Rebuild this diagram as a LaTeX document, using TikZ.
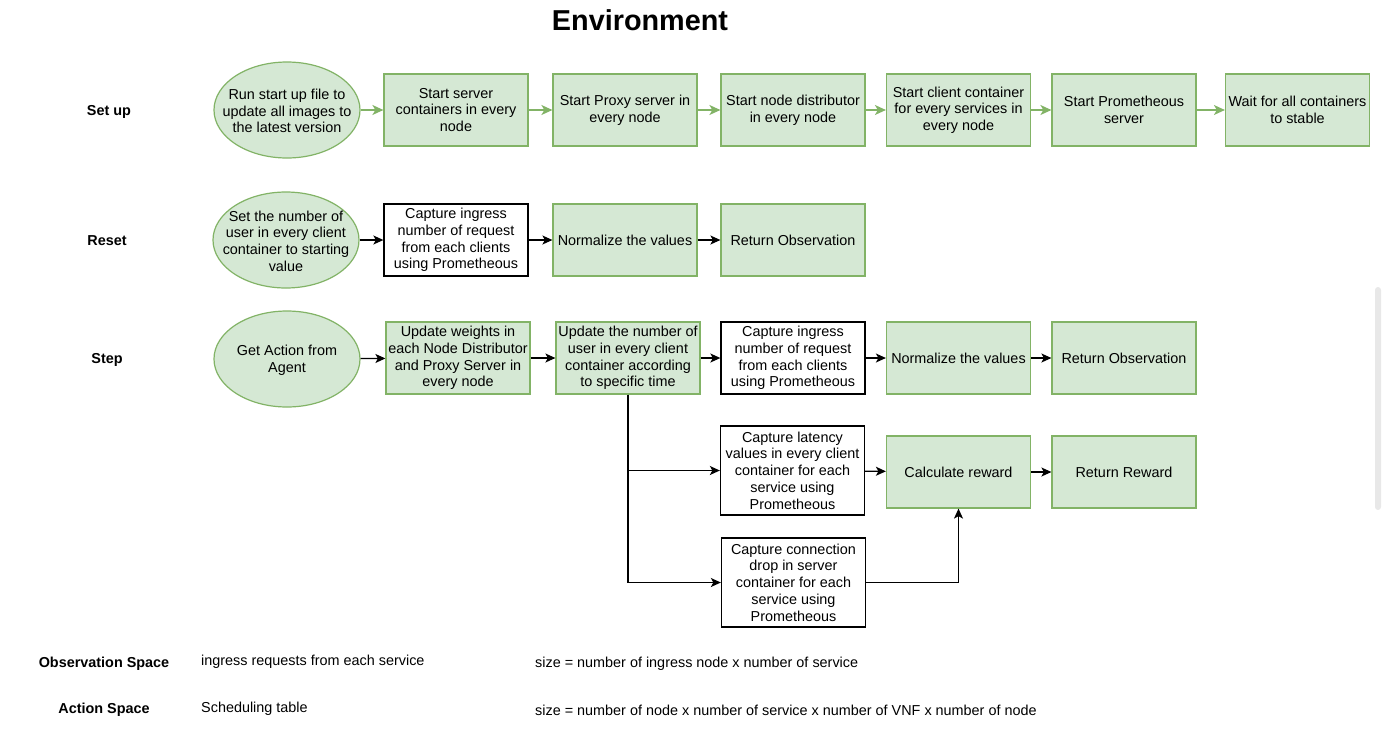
\documentclass[tikz,border=0pt]{standalone}
\usepackage{fontspec}
\setmainfont{Liberation Sans}
\usetikzlibrary{shapes.geometric,arrows.meta}
\definecolor{gfill}{HTML}{D5E8D4}
\definecolor{gdraw}{HTML}{82B366}
\definecolor{sbar}{HTML}{E8E8E8}
\begin{document}
\begin{tikzpicture}[x=1pt,y=-1pt,
  txt/.style={font=\fontsize{14.4}{16.7}\selectfont, align=center},
  gbox/.style={txt, rectangle, draw=gdraw, fill=gfill, line width=1.2pt, minimum width=144pt, minimum height=72pt, inner sep=0pt},
  wbox/.style={txt, rectangle, draw=black, fill=white, line width=1.3pt, minimum width=144pt, minimum height=72pt, inner sep=0pt},
  ell/.style={ellipse, draw=gdraw, fill=gfill, line width=1.2pt, minimum width=146pt, minimum height=96pt, inner sep=0pt},
  lbl/.style={txt, yshift=-1pt},
  rowlbl/.style={font=\fontsize{14.4}{16.7}\selectfont\bfseries},
  plain/.style={font=\fontsize{14.4}{16.7}\selectfont, anchor=west, inner sep=0pt},
  garr/.style={draw=gdraw, line width=1.5pt, -{Stealth[length=11pt,width=10pt,inset=3pt]}},
  barr/.style={draw=black, line width=1.3pt, -{Stealth[length=10pt,width=9pt,inset=2.5pt]}}
]
\useasboundingbox (0,0) rectangle (1382,742);
\fill[sbar, rounded corners=3pt] (1375,287) rectangle (1381,510);

\node[font=\fontsize{28.8}{32}\selectfont\bfseries] (title) at (640,20) {Environment};

\node[rowlbl] (lsetup) at (109,112) {Set up};
\node[rowlbl] (lreset) at (107,241) {Reset};
\node[rowlbl] (lstep) at (107,360) {Step};

% Set up row
\node[ell, label={[lbl]center:{Run start up file to\\update all images to\\the latest version}}] (s0) at (287,110) {};
\node[gbox] (s1) at (456,110) {Start server\\containers in every\\node};
\node[gbox] (s2) at (625,110) {Start Proxy server in\\every node};
\node[gbox] (s3) at (793,110) {Start node distributor\\in every node};
\node[gbox] (s4) at (958.5,110) {Start client container\\for every services in\\every node};
\node[gbox] (s5) at (1124,110) {Start Prometheous\\server};
\node[gbox] (s6) at (1297.5,110) {Wait for all containers\\to stable};
\draw[garr] (s0) -- (s1);
\draw[garr] (s1) -- (s2);
\draw[garr] (s2) -- (s3);
\draw[garr] (s3) -- (s4);
\draw[garr] (s4) -- (s5);
\draw[garr] (s5) -- (s6);

% Reset row
\node[ell, label={[lbl]center:{Set the number of\\user in every client\\container to starting\\value}}] (r0) at (286,240) {};
\node[wbox] (r1) at (456,240) {Capture ingress\\number of request\\from each clients\\using Prometheous};
\node[gbox] (r2) at (625,240) {Normalize the values};
\node[gbox] (r3) at (793,240) {Return Observation};
\draw[barr] (r0) -- (r1);
\draw[barr] (r1) -- (r2);
\draw[barr] (r2) -- (r3);

% Step row
\node[ell, label={[lbl]center:{Get Action from\\Agent}}] (t0) at (287,359) {};
\node[gbox] (t1) at (458,358) {Update weights in\\each Node Distributor\\and Proxy Server in\\every node};
\node[gbox] (t2) at (628,358) {Update the number of\\user in every client\\container according\\to specific time};
\node[wbox] (t3) at (793,358) {Capture ingress\\number of request\\from each clients\\using Prometheous};
\node[gbox] (t4) at (958.5,358) {Normalize the values};
\node[gbox] (t5) at (1124,358) {Return Observation};
\node[wbox, minimum height=89pt] (cl) at (792.5,470.5) {Capture latency\\values in every client\\container for each\\service using\\Prometheous};
\node[gbox] (cr) at (958.5,472) {Calculate reward};
\node[gbox] (rr) at (1124,472) {Return Reward};
\node[wbox, minimum height=89pt] (cd) at (793.5,582.5) {Capture connection\\drop in server\\container for each\\service using\\Prometheous};
\draw[barr] (t0) -- (t1);
\draw[barr] (t1) -- (t2);
\draw[barr] (t2) -- (t3);
\draw[barr] (t3) -- (t4);
\draw[barr] (t4) -- (t5);
\draw[barr] (t2.south) |- (cl.west);
\draw[barr] (t2.south) |- (cd.west);
\draw[barr] (cl) -- (cr);
\draw[barr] (cr) -- (rr);
\draw[barr] (cd.east) -| (cr.south);

% Bottom
\node[rowlbl] (obs) at (104,664) {Observation Space};
\node[plain] (obs1) at (201,662) {ingress requests from each service};
\node[plain] (obs2) at (535,664) {size = number of ingress node x number of service};
\node[rowlbl] (act) at (104,710) {Action Space};
\node[plain] (act1) at (201,709) {Scheduling table};
\node[plain] (act2) at (535,710) {size = number of node x number of service x number of VNF x number of node};
\end{tikzpicture}
\end{document}
